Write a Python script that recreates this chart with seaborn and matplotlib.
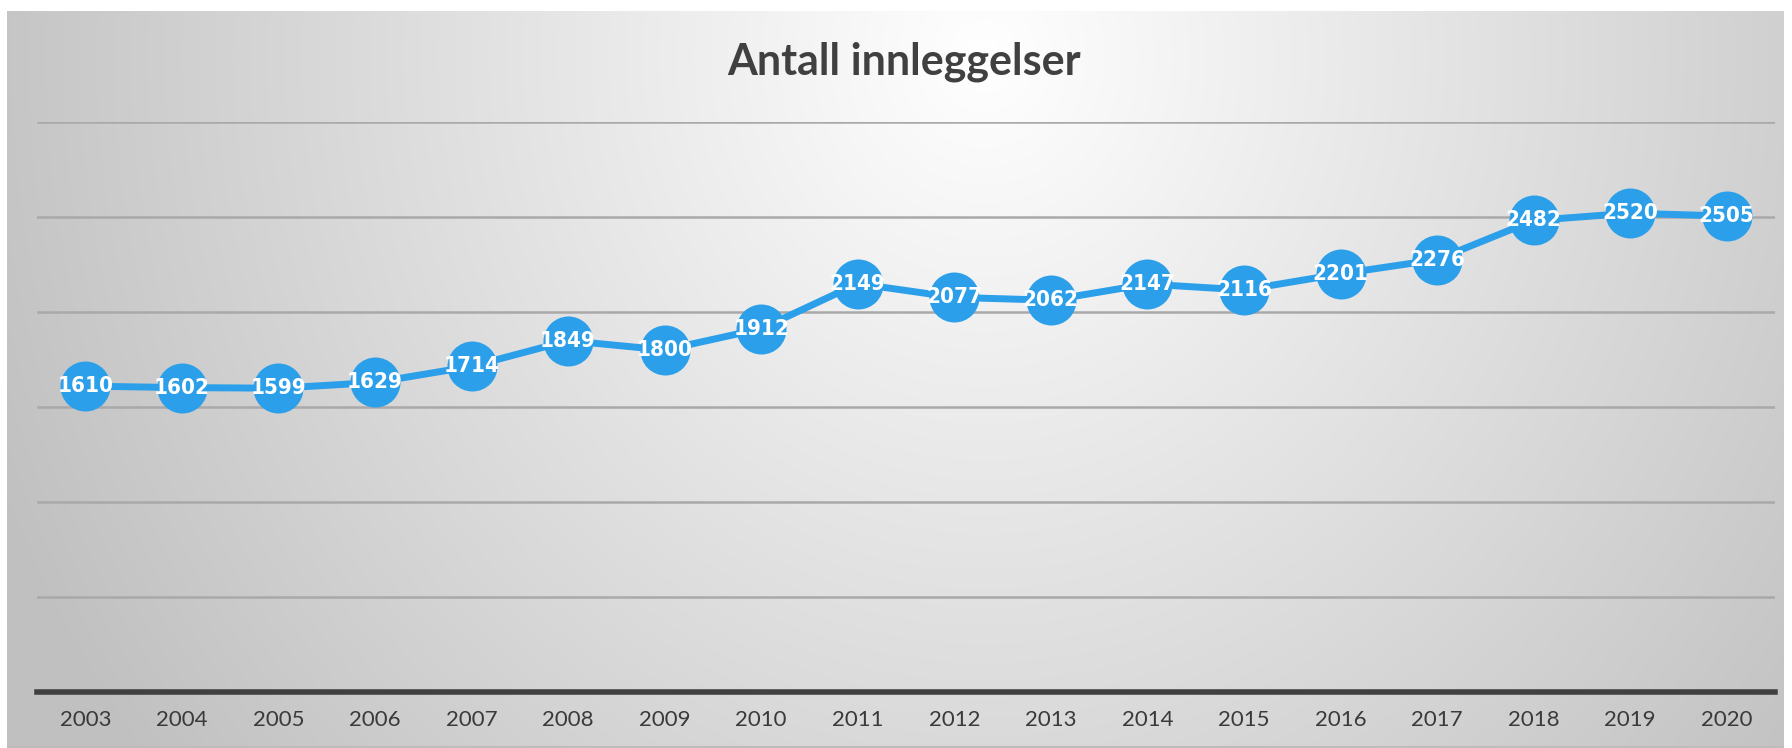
import numpy as np
import pandas as pd
import matplotlib
matplotlib.use("Agg")
import matplotlib.pyplot as plt
import seaborn as sns

years = ["2003", "2004", "2005", "2006", "2007", "2008", "2009", "2010", "2011",
         "2012", "2013", "2014", "2015", "2016", "2017", "2018", "2019", "2020"]
values = [1610, 1602, 1599, 1629, 1714, 1849, 1800, 1912, 2149,
          2077, 2062, 2147, 2116, 2201, 2276, 2482, 2520, 2505]
title = "Antall innleggelser"
y_ticks = [0, 500, 1000, 1500, 2000, 2500, 3000]

sns.set_theme(style="white")
plt.rcParams['font.family'] = ['Lato', 'DejaVu Sans']

W, H = 1792, 748
fig = plt.figure(figsize=(W / 100, H / 100), dpi=100)
fig.patch.set_facecolor("white")

# background box with radial gradient
bx0, bx1, by_top = 7, 1783, 11
bg = fig.add_axes([bx0 / W, 0, (bx1 - bx0) / W, (H - by_top) / H], zorder=0)
ny, nx = 300, 700
yy, xx = np.mgrid[0:1:ny * 1j, 0:1:nx * 1j]
r = np.sqrt(((xx - 0.55) / 0.5) ** 2 + ((yy - 0.06) / 1.3) ** 2)
g = np.clip(255 - 52 * r, 192, 255) / 255
img = np.dstack([g, g, g])
bg.imshow(img, aspect="auto", extent=[0, 1, 1, 0], interpolation="bilinear")
bg.axhline(1, color="#BDBDBD", lw=3)
bg.set_xlim(0, 1)
bg.set_ylim(1, 0)
bg.axis("off")

ax = fig.add_axes([37 / W, (H - 692) / H, (1775 - 37) / W, (692 - 122) / H], zorder=1)
ax.patch.set_alpha(0)

df = pd.DataFrame({"year": years, "value": values})
color = "#2B9FEA"
sns.lineplot(data=df, x="year", y="value", ax=ax, color=color, linewidth=5,
             marker="o", markersize=36, markeredgewidth=0, zorder=3)

for i, v in enumerate(values):
    ax.text(i, v, str(v), ha="center", va="center", color="white",
            fontsize=16, fontweight="bold", fontstretch="condensed",
            family="DejaVu Sans", zorder=4)

ax.set_xlim(-0.5, len(years) - 0.5)
ax.set_ylim(0, 3000)
ax.set_yticks(y_ticks)
ax.set_yticklabels([])
ax.tick_params(axis="y", length=0)
ax.grid(axis="y", color="#A9A9A9", linewidth=1.8)
ax.set_axisbelow(True)
for s in ["top", "right", "left"]:
    ax.spines[s].set_visible(False)
ax.spines["bottom"].set_color("#404040")
ax.spines["bottom"].set_linewidth(4)
ax.set_xlabel("")
ax.set_ylabel("")
ax.tick_params(axis="x", length=0, pad=13, labelsize=16, labelcolor="#3A3A3A")

fig.text((bx0 + bx1) / 2 / W + 0.005, 1 - 62 / H, title, ha="center", va="center",
         fontsize=31, fontweight="bold", color="#404040")

fig.savefig("out.png", dpi=100)
